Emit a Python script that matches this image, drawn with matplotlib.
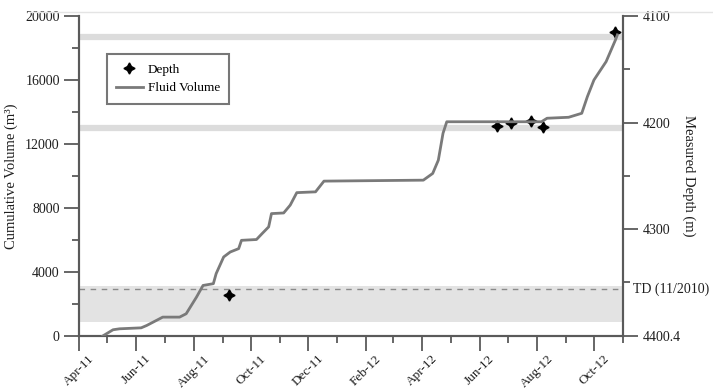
import matplotlib
matplotlib.use("Agg")
import matplotlib.pyplot as plt
import matplotlib.dates as mdates
from matplotlib.lines import Line2D
from matplotlib.ticker import FixedLocator, MultipleLocator
import datetime as dt

# ---------------- data ----------------
fluid_dates = ["2011-04-26", "2011-05-07", "2011-05-14", "2011-06-06", "2011-06-12",
               "2011-06-29", "2011-07-17", "2011-07-24", "2011-08-04", "2011-08-11",
               "2011-08-22", "2011-08-25", "2011-09-02", "2011-09-09", "2011-09-18",
               "2011-09-21", "2011-10-07", "2011-10-13", "2011-10-20", "2011-10-23",
               "2011-11-05", "2011-11-12", "2011-11-19", "2011-12-09", "2011-12-18",
               "2012-04-02", "2012-04-12", "2012-04-18", "2012-04-23", "2012-04-27",
               "2012-08-06", "2012-08-12", "2012-09-04", "2012-09-18", "2012-09-24",
               "2012-10-01", "2012-10-14", "2012-10-24", "2012-10-26"]
fluid_volume = [0, 390, 450, 510, 660,
                1180, 1180, 1390, 2430, 3160,
                3270, 3900, 4940, 5250, 5460,
                5980, 6030, 6400, 6820, 7650,
                7690, 8180, 8960, 9010, 9680,
                9740, 10160, 10990, 12670, 13390,
                13390, 13610, 13670, 13920, 14960,
                16000, 17150, 18510, 18820]

depth_dates = ["2011-09-08", "2012-06-20", "2012-07-04", "2012-07-26", "2012-08-08", "2012-10-23"]
depth_values = [4362, 4203, 4200, 4199, 4204, 4115]

formation_depths = [4120, 4205]
td_depth = 4356.4
shade_depths = [4353, 4387]

vol_ticks = [0, 4000, 8000, 12000, 16000, 20000]
depth_ticks = [4100, 4200, 4300, 4400.4]
depth_tick_labels = ["4100", "4200", "4300", "4400.4"]
depth_minor = [4150, 4250, 4350]
td_label = "TD (11/2010)"

# ---------------- style ----------------
FONT = ["Liberation Serif", "DejaVu Serif"]
plt.rcParams["font.family"] = FONT
spine_c = "#5a5a5a"
txt_c = "#1e1e1e"

fig = plt.figure(figsize=(7.13, 3.91), dpi=100)
L, R, B, T = 79.3 / 713, 623 / 713, 1 - 336 / 391, 1 - 16 / 391
ax = fig.add_axes([L, B, R - L, T - B])
ax2 = ax.twinx()

fd = [dt.datetime.strptime(s, "%Y-%m-%d") for s in fluid_dates]
dd = [dt.datetime.strptime(s, "%Y-%m-%d") for s in depth_dates]

# bands / shading (depth axis)
for d in formation_depths:
    ax2.axhline(d, color="#dcdcdc", lw=4.5, zorder=1)
ax2.axhspan(shade_depths[0], shade_depths[1], color="#e3e3e3", lw=0, zorder=0.5)
ax2.axhline(td_depth, color="#8a8a8a", lw=1.0, ls=(0, (4, 4)), zorder=1.5)

# fluid volume
line, = ax.plot(fd, fluid_volume, color="#7a7a7a", lw=2.0, zorder=3, label="Fluid Volume")

# depth markers
pts, = ax2.plot(dd, depth_values, ls="none", marker=(4, 1, 0), ms=8, color="black",
                zorder=5, label="Depth")

ax.set_zorder(ax2.get_zorder() + 1)
ax.patch.set_visible(False)

# axes limits
ax.set_xlim(dt.datetime(2011, 4, 1), dt.datetime(2012, 11, 1))
ax.set_ylim(0, 20000)
ax2.set_ylim(4400.4, 4100)

# x ticks
ax.xaxis.set_major_locator(mdates.MonthLocator(bymonth=[2, 4, 6, 8, 10, 12]))
ax.xaxis.set_minor_locator(mdates.MonthLocator())
ax.xaxis.set_major_formatter(mdates.DateFormatter("%b-%y"))

ax.yaxis.set_major_locator(FixedLocator(vol_ticks))
ax.yaxis.set_minor_locator(MultipleLocator(2000))
ax2.yaxis.set_major_locator(FixedLocator(depth_ticks))
ax2.set_yticklabels(depth_tick_labels)
ax2.yaxis.set_minor_locator(FixedLocator(depth_minor))

for a in (ax, ax2):
    a.tick_params(which="major", direction="out", length=11, width=1.3, color=spine_c,
                  labelsize=10, labelcolor=txt_c)
    a.tick_params(which="minor", direction="out", length=5, width=1.3, color=spine_c)
    for s in a.spines.values():
        s.set_color(spine_c)
        s.set_linewidth(1.5)
    a.spines["top"].set_visible(False)
ax.tick_params(axis="x", which="major", pad=1, labelsize=9.5)
ax.tick_params(axis="y", which="major", pad=3)
ax2.tick_params(axis="y", which="major", pad=3)
for lab in ax.get_xticklabels():
    lab.set_rotation(45)
    lab.set_ha("center")

ax.set_ylabel("Cumulative Volume (m³)", fontsize=10.5, color=txt_c)
ax.yaxis.set_label_coords(-0.112, 0.5)
ax2.set_ylabel("Measured Depth (m)", fontsize=10.5, color=txt_c, rotation=270, va="bottom")
ax2.yaxis.set_label_coords(1.108, 0.5)

# TD label
ax2.text(1.018, td_depth, td_label, transform=ax2.get_yaxis_transform(), fontsize=10,
         va="center", ha="left", color=txt_c, clip_on=False)

# legend
leg = ax.legend([pts, line], ["Depth", "Fluid Volume"], loc="upper left",
                bbox_to_anchor=(0.051, 0.881), borderaxespad=0, fontsize=9.5,
                frameon=True, fancybox=False, edgecolor="#555555", handlelength=2.0,
                handletextpad=0.4, borderpad=0.7, labelspacing=0.5)
leg.get_frame().set_linewidth(1.5)

# faint top border line
fig.add_artist(Line2D([30 / 713, 1], [1 - 12 / 391] * 2, color="#e4e4e4", lw=1))

fig.savefig("out.png", dpi=100)
